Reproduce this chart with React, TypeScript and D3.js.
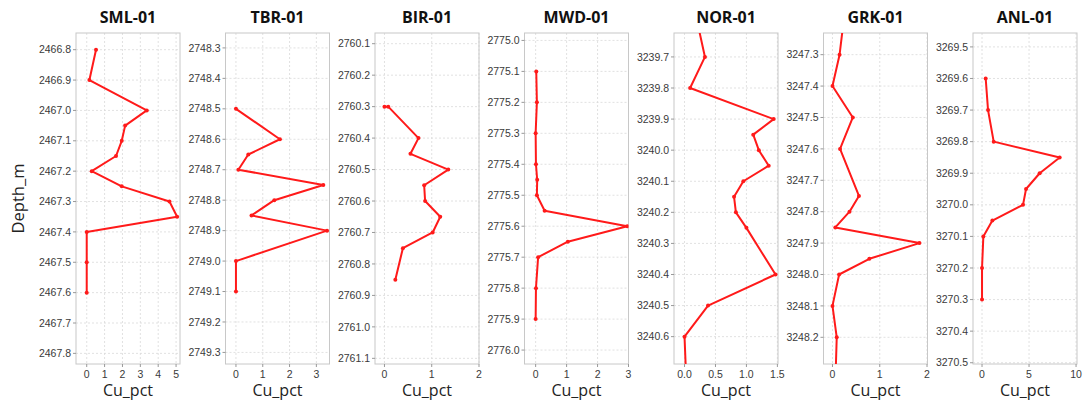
import React from 'react';
import * as d3 from 'd3';

// well names
const wells = ['SML-01', 'TBR-01', 'BIR-01', 'MWD-01', 'NOR-01', 'GRK-01', 'ANL-01'];

// depth samples per well (m)
const smlDepth = [2466.8, 2466.9, 2467.0, 2467.05, 2467.1, 2467.15, 2467.2, 2467.25, 2467.3, 2467.35, 2467.4, 2467.5, 2467.6];
const smlCu = [0.52, 0.15, 3.36, 2.15, 1.96, 1.64, 0.28, 1.96, 4.63, 5.06, 0, 0, 0];

const tbrDepth = [2748.5, 2748.6, 2748.65, 2748.7, 2748.75, 2748.8, 2748.85, 2748.9, 2749.0, 2749.1];
const tbrCu = [0, 1.64, 0.46, 0.09, 3.26, 1.43, 0.58, 3.4, 0, 0];

const birDepth = [2760.3, 2760.3, 2760.4, 2760.45, 2760.5, 2760.55, 2760.6, 2760.65, 2760.7, 2760.75, 2760.85];
const birCu = [0.0, 0.08, 0.72, 0.55, 1.35, 0.84, 0.86, 1.18, 1.02, 0.39, 0.23];

const mwdDepth = [2775.1, 2775.2, 2775.3, 2775.4, 2775.45, 2775.5, 2775.55, 2775.6, 2775.65, 2775.7, 2775.8, 2775.9];
const mwdCu = [0.02, 0.04, 0, 0.01, 0.05, 0.04, 0.29, 2.96, 1.04, 0.08, 0.01, 0];

const norDepth = [3239.6, 3239.7, 3239.8, 3239.9, 3239.95, 3240.0, 3240.05, 3240.1, 3240.15, 3240.2, 3240.25, 3240.4, 3240.5, 3240.6, 3240.7];
const norCu = [0.22, 0.33, 0.09, 1.44, 1.11, 1.2, 1.36, 0.95, 0.8, 0.83, 1.0, 1.47, 0.38, 0, 0.02];

const grkDepth = [3247.2, 3247.3, 3247.4, 3247.5, 3247.6, 3247.75, 3247.8, 3247.85, 3247.9, 3247.95, 3248.0, 3248.1, 3248.2, 3248.3];
const grkCu = [0.23, 0.15, 0, 0.43, 0.16, 0.56, 0.36, 0.06, 1.84, 0.78, 0.14, 0, 0.09, 0.07];

const anlDepth = [3269.6, 3269.7, 3269.8, 3269.85, 3269.9, 3269.95, 3270.0, 3270.05, 3270.1, 3270.2, 3270.3];
const anlCu = [0.39, 0.64, 1.24, 8.26, 6.13, 4.68, 4.36, 1.1, 0.14, 0, 0];

// axis ranges
const depthRanges: [number, number][] = [
  [2466.745, 2467.835],
  [2748.251, 2749.338],
  [2760.066, 2761.118],
  [2774.976, 2776.045],
  [3239.623, 3240.688],
  [3247.231, 3248.285],
  [3269.456, 3270.504],
];
const cuRanges: [number, number][] = [
  [-0.6, 5.22],
  [-0.39, 3.49],
  [-0.2, 2.0],
  [-0.36, 3.0],
  [-0.17, 1.51],
  [-0.19, 2.01],
  [-0.96, 10.1],
];
const cuTicks = [
  [0, 1, 2, 3, 4, 5],
  [0, 1, 2, 3],
  [0, 1, 2],
  [0, 1, 2, 3],
  [0, 0.5, 1.0, 1.5],
  [0, 1, 2],
  [0, 5, 10],
];
const cuTickFmt = ['d', 'd', 'd', 'd', '.1f', 'd', 'd'];

const depths = [smlDepth, tbrDepth, birDepth, mwdDepth, norDepth, grkDepth, anlDepth];
const cus = [smlCu, tbrCu, birCu, mwdCu, norCu, grkCu, anlCu];

const W = 1084;
const H = 401;
const top = 33;
const bottom = 364;
const panelW = 104;
const firstLeft = 76;
const step = 149.5;

const Panel: React.FC<{ i: number }> = ({ i }) => {
  const left = firstLeft + i * step;
  const y = d3.scaleLinear().domain(depthRanges[i]).range([top, bottom]);
  const x = d3.scaleLinear().domain(cuRanges[i]).range([left, left + panelW]);

  // y ticks every 0.1 m
  const [d0, d1] = depthRanges[i];
  const yTicks: number[] = [];
  for (let k = Math.ceil(d0 * 10 - 1e-6); k <= Math.floor(d1 * 10 + 1e-6); k++) yTicks.push(k / 10);

  const pts = depths[i].map((d, j) => ({ d, v: cus[i][j] }));
  const line = d3
    .line<{ d: number; v: number }>()
    .x(p => x(p.v))
    .y(p => y(p.d));
  const fmt = d3.format(cuTickFmt[i]);
  const clipId = `clip-${i}`;

  return (
    <g>
      <defs>
        <clipPath id={clipId}>
          <rect x={left} y={top} width={panelW} height={bottom - top} />
        </clipPath>
      </defs>
      <rect x={left} y={top} width={panelW} height={bottom - top} fill="#fff" />
      {/* grid */}
      {yTicks.map(t => (
        <line key={'gy' + t} x1={left} x2={left + panelW} y1={y(t)} y2={y(t)} stroke="#d9d9d9" strokeWidth={0.8} strokeDasharray="2,2" />
      ))}
      {cuTicks[i].map(t => (
        <line key={'gx' + t} x1={x(t)} x2={x(t)} y1={top} y2={bottom} stroke="#d9d9d9" strokeWidth={0.8} strokeDasharray="2,2" />
      ))}
      <rect x={left} y={top} width={panelW} height={bottom - top} fill="none" stroke="#c8c8c8" strokeWidth={1} />
      {/* y axis */}
      {yTicks.map(t => (
        <g key={'ty' + t}>
          <line x1={left - 3} x2={left} y1={y(t)} y2={y(t)} stroke="#999" />
          <text x={left - 5} y={y(t)} dy="0.35em" textAnchor="end" fontSize={10.5} fill="#3a3a3a" fontFamily="'Liberation Sans', Arial, sans-serif">
            {t.toFixed(1)}
          </text>
        </g>
      ))}
      {/* x axis */}
      {cuTicks[i].map(t => (
        <g key={'tx' + t}>
          <line x1={x(t)} x2={x(t)} y1={bottom} y2={bottom + 3} stroke="#999" />
          <text x={x(t)} y={378} textAnchor="middle" fontSize={10.5} fill="#3a3a3a" fontFamily="'Liberation Sans', Arial, sans-serif">
            {fmt(t)}
          </text>
        </g>
      ))}
      {/* series */}
      <g clipPath={`url(#${clipId})`}>
        <path d={line(pts) || ''} fill="none" stroke="#ff1a1a" strokeWidth={2} strokeLinejoin="round" />
        {pts.map((p, j) => (
          <circle key={j} cx={x(p.v)} cy={y(p.d)} r={2} fill="#ff1a1a" />
        ))}
      </g>
      <text x={left + panelW / 2} y={23} textAnchor="middle" fontSize={16} fontWeight="bold" fill="#111" fontFamily="'Open Sans', sans-serif">
        {wells[i]}
      </text>
      <text x={left + panelW / 2} y={396} textAnchor="middle" fontSize={16} fill="#222" fontFamily="'Open Sans', sans-serif">
        Cu_pct
      </text>
    </g>
  );
};

export default function App() {
  return (
    <svg width={W} height={H} style={{ position: 'absolute', left: 0, top: 0, background: '#fff' }}>
      <rect width={W} height={H} fill="#fff" />
      {wells.map((w, i) => (
        <Panel key={w} i={i} />
      ))}
      <text transform={`translate(24,${(top + bottom) / 2}) rotate(-90)`} textAnchor="middle" fontSize={16.5} fill="#222" fontFamily="'Open Sans', sans-serif">
        Depth_m
      </text>
    </svg>
  );
}
